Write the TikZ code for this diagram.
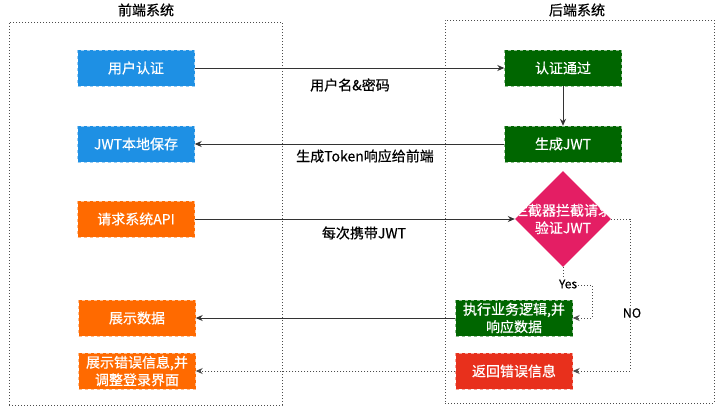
\documentclass[tikz,border=0pt]{standalone}
\usepackage{fontspec}
\newfontfamily\cjk[FakeBold=0.5]{Noto Sans CJK SC}
\usetikzlibrary{shapes.geometric,arrows.meta}
\definecolor{fblue}{RGB}{30,144,228}
\definecolor{forange}{RGB}{255,106,0}
\definecolor{bgreen}{RGB}{0,102,0}
\definecolor{bpink}{RGB}{228,30,100}
\definecolor{bred}{RGB}{232,48,28}
\tikzset{
  card/.style={draw=white!55!#1, dashed, fill=#1, text=white, minimum width=117pt,
    minimum height=36pt, inner sep=1pt, align=center,
    font=\cjk\fontsize{14}{17.5}\selectfont},
  gate/.style={shape=diamond, fill=bpink, draw=none, inner sep=0pt,
    minimum width=96pt, minimum height=96pt},
  lbl/.style={font=\cjk\fontsize{14}{17.5}\selectfont},
  frame/.style={draw=black!70, line width=0.9pt, dash pattern=on 1.2pt off 1.8pt},
  flow/.style={draw=black!80, line width=1pt, -{Stealth[length=7pt,width=6pt]}},
  hint/.style={draw=black!70, line width=0.9pt, dash pattern=on 1.2pt off 1.8pt,
    -{Stealth[length=7pt,width=6pt]}}
}
\begin{document}
\begin{tikzpicture}[x=1pt,y=-1pt]
\useasboundingbox (0,0) rectangle (728,416);
% frames
\node[frame, minimum width=273pt, minimum height=383pt] (fsys) at (145.5,213.5) {};
\node[frame, minimum width=269pt, minimum height=383pt] (bsys) at (579.5,211.5) {};
\node[lbl] (fst) at (146,10) {前端系统};
\node[lbl] (bst) at (577,10) {后端系统};
% front end
\node[card=fblue] (fe1) at (136,68) {用户认证};
\node[card=fblue] (fe2) at (136,144) {JWT本地保存};
\node[card=forange] (fe3) at (136,219) {请求系统API};
\node[card=forange] (fe4) at (137,318) {展示数据};
\node[card=forange] (fe5) at (137,371) {展示错误信息,并\\调整登录界面};
% back end
\node[card=bgreen] (be1) at (563,68) {认证通过};
\node[card=bgreen] (be2) at (563,144) {生成JWT};
\node[gate, label={[lbl,text=white,align=center]center:拦截器拦截请求\\验证JWT}] (be3) at (563,219) {};
\node[card=bgreen] (be4) at (514,318) {执行业务逻辑,并\\响应数据};
\node[card=bred] (be5) at (514,371) {返回错误信息};
% requests
\draw[flow] (fe1) -- (be1);
\node[lbl] (l1) at (350,85) {用户名\&密码};
\draw[flow] (be1) -- (be2);
\draw[flow] (be2) -- (fe2);
\node[lbl] (l2) at (365,156) {生成Token响应给前端};
\draw[flow] (fe3) -- (be3);
\node[lbl] (l3) at (364,233) {每次携带JWT};
\draw[flow] (be4) -- (fe4);
\draw[hint] (be5) -- (fe5);
% checks
\coordinate (yesc) at (592,285);
\draw[hint] (be3.south) |- (yesc) |- (be4.east);
\node[lbl, fill=white, inner sep=1pt, font=\cjk\fontsize{12}{14}\selectfont] (yes) at (568,284) {Yes};
\coordinate (noc) at (630,371);
\draw[hint] (be3.east) -| (noc) -- (be5.east);
\node[lbl, fill=white, inner sep=1pt, font=\cjk\fontsize{12.5}{14}\selectfont] (no) at (632,313) {NO};
\end{tikzpicture}
\end{document}
